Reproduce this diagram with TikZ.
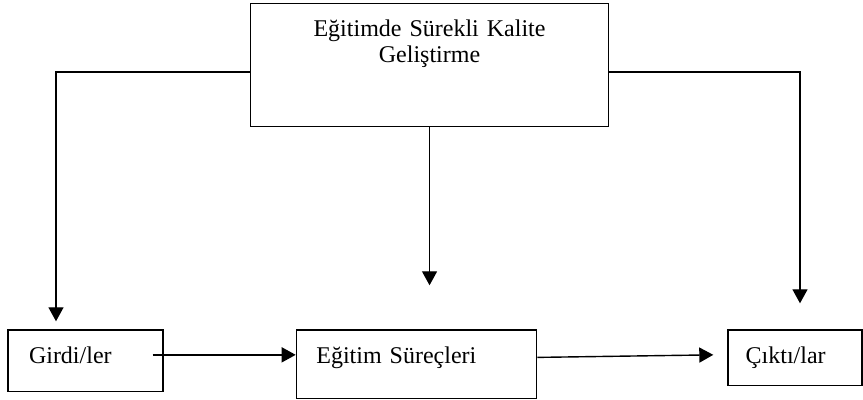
\documentclass[tikz,border=0pt]{standalone}
\usepackage{fontspec}
\setmainfont{Liberation Serif}
\usepackage{tikz}
\usetikzlibrary{shapes,arrows.meta,positioning}

\begin{document}
\begin{tikzpicture}
            [
                x=0.5pt, y=-0.5pt,
                kutunode/.style={rectangle, draw=black, line width=0.7pt, anchor=north west, inner ysep=0pt, align=left, font=\fontsize{12}{12.85}\selectfont},
                okline/.style={line width=0.7pt, -{Triangle[length=7pt,width=7.5pt]}},
            ]

            \useasboundingbox (0,0) rectangle (863,400);

            %% TOP BOX
            \node[kutunode, inner xsep=0pt, align=center, text width=178.85pt, text height=16.65pt, text depth=45pt] (ust) at (250,2.7) {Eğitimde Sürekli Kalite\\Geliştirme};

            %% LOWER BOXES
            \node[kutunode, inner xsep=10.5pt, text width=56.5pt, text height=17pt, text depth=13.85pt] (girdi) at (7.3,329.3) {Girdi/ler};
            \node[kutunode, inner xsep=10pt, text width=100.15pt, text height=17pt, text depth=17.2pt] (egitim) at (295.7,329.3) {Eğitim Süreçleri};
            \node[kutunode, inner xsep=8.85pt, text width=49.3pt, text height=17pt, text depth=10.85pt] (cikti) at (727.3,329.3) {Çıktı/lar};

            %% ARROWS FROM TOP BOX
            \draw[okline, shorten >=4pt] ([yshift=-3.5pt]ust.west) -| ([xshift=24.35pt]girdi.north west);
            \draw[okline, shorten >=22pt] (ust.south) -- (ust.south |- egitim.north);
            \draw[okline, shorten >=13pt] ([yshift=-3.5pt]ust.east) -| ([xshift=36.35pt]cikti.north west);

            %% ARROWS BETWEEN LOWER BOXES
            \coordinate (girdiout) at ([shift={(-5.5pt,3pt)}]girdi.east);
            \draw[okline] (girdiout) -- (egitim.west |- girdiout);
            \draw[okline] ([yshift=3.4pt]egitim.east) -- ([shift={(-7pt,1.5pt)}]cikti.west);

        \end{tikzpicture}
\end{document}
